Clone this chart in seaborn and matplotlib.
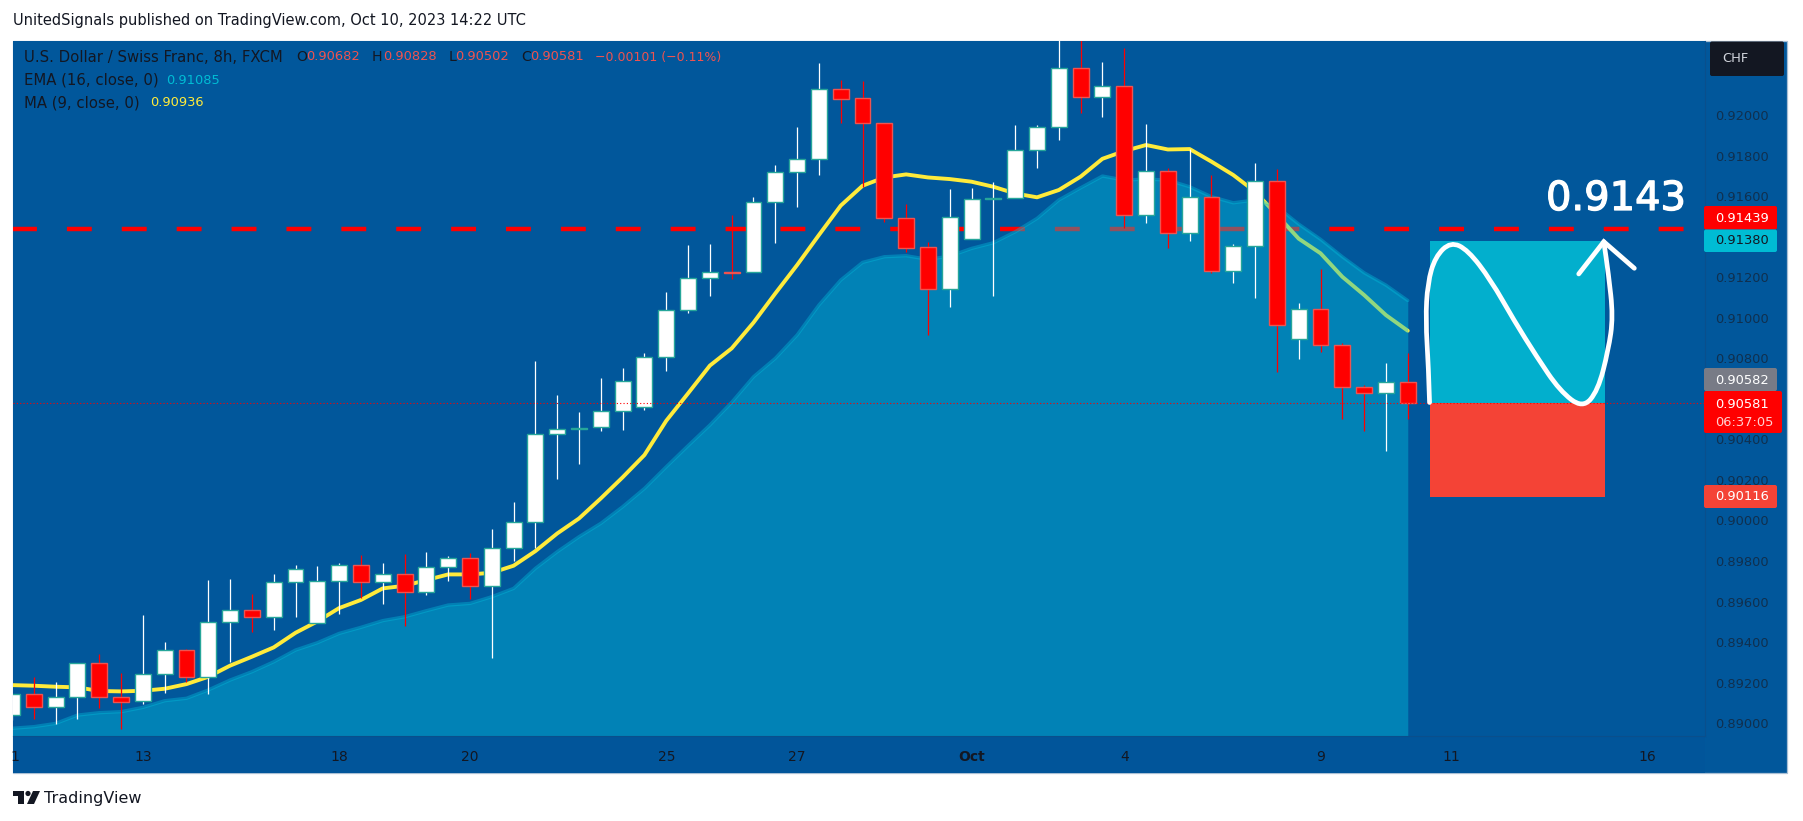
# %%
import matplotlib
matplotlib.use('Agg')
import matplotlib.patheffects as pe
import matplotlib.pyplot as plt
import pandas as pd
import seaborn as sns
from matplotlib.patches import Circle, FancyBboxPatch, PathPatch, Polygon, Rectangle
from matplotlib.path import Path
from matplotlib.transforms import Affine2D

# USD/CHF 8h bars
opens = [0.89040, 0.89142, 0.89078, 0.89128, 0.89295, 0.89128, 0.89108, 0.89241, 0.89359, 0.89226,
         0.89497, 0.89557, 0.89522, 0.89695, 0.89493, 0.89700, 0.89779, 0.89695, 0.89734, 0.89645,
         0.89769, 0.89813, 0.89675, 0.89862, 0.89991, 0.90425, 0.90449, 0.90461, 0.90540, 0.90558,
         0.90805, 0.91036, 0.91194, 0.91224, 0.91224, 0.91569, 0.91717, 0.91781, 0.92126, 0.92082,
         0.91959, 0.91490, 0.91347, 0.91140, 0.91387, 0.91584, 0.91589, 0.91826, 0.91939, 0.92230,
         0.92087, 0.92141, 0.91505, 0.91722, 0.91416, 0.91594, 0.91229, 0.91352, 0.91673, 0.90895,
         0.91041, 0.90864, 0.90657, 0.90627, 0.90682]
highs = [0.89142, 0.89229, 0.89203, 0.89295, 0.89341, 0.89246, 0.89534, 0.89400, 0.89364, 0.89706,
         0.89711, 0.89637, 0.89736, 0.89780, 0.89775, 0.89790, 0.89830, 0.89790, 0.89834, 0.89844,
         0.89825, 0.89838, 0.89958, 0.90091, 0.90786, 0.90619, 0.90535, 0.90704, 0.90752, 0.90824,
         0.91125, 0.91359, 0.91364, 0.91507, 0.91595, 0.91753, 0.91941, 0.92256, 0.92172, 0.92166,
         0.91959, 0.91561, 0.91373, 0.91635, 0.91640, 0.91669, 0.91950, 0.91950, 0.92419, 0.92419,
         0.92261, 0.92330, 0.91955, 0.91738, 0.91832, 0.91704, 0.91364, 0.91761, 0.91732, 0.91071,
         0.91239, 0.90874, 0.90668, 0.90778, 0.90828]
lows = [0.89016, 0.89019, 0.88996, 0.89021, 0.89077, 0.88971, 0.89095, 0.89151, 0.89203, 0.89144,
        0.89302, 0.89451, 0.89460, 0.89524, 0.89493, 0.89539, 0.89616, 0.89588, 0.89479, 0.89632,
        0.89701, 0.89611, 0.89322, 0.89798, 0.89862, 0.90204, 0.90278, 0.90440, 0.90446, 0.90545,
        0.90739, 0.91025, 0.91109, 0.91193, 0.91224, 0.91370, 0.91548, 0.91706, 0.91960, 0.91646,
        0.91474, 0.91326, 0.90915, 0.91055, 0.91387, 0.91109, 0.91589, 0.91740, 0.91878, 0.92011,
        0.91992, 0.91444, 0.91469, 0.91346, 0.91378, 0.91219, 0.91173, 0.91099, 0.90734, 0.90796,
        0.90833, 0.90500, 0.90443, 0.90344, 0.90502]
closes = [0.89142, 0.89078, 0.89128, 0.89295, 0.89128, 0.89106, 0.89241, 0.89359, 0.89226, 0.89497,
          0.89557, 0.89522, 0.89695, 0.89759, 0.89700, 0.89779, 0.89695, 0.89734, 0.89645, 0.89769,
          0.89813, 0.89675, 0.89862, 0.89991, 0.90425, 0.90449, 0.90458, 0.90540, 0.90686, 0.90805,
          0.91036, 0.91194, 0.91224, 0.91221, 0.91569, 0.91717, 0.91781, 0.92126, 0.92080, 0.91959,
          0.91490, 0.91346, 0.91140, 0.91495, 0.91584, 0.91589, 0.91826, 0.91939, 0.92230, 0.92087,
          0.92141, 0.91505, 0.91722, 0.91416, 0.91594, 0.91229, 0.91352, 0.91673, 0.90962, 0.91041,
          0.90864, 0.90657, 0.90627, 0.90681, 0.90581]
ma_9 = [0.89188, 0.89185, 0.89180, 0.89177, 0.89159, 0.89157, 0.89160, 0.89170, 0.89193, 0.89229,
        0.89284, 0.89328, 0.89374, 0.89446, 0.89502, 0.89568, 0.89608, 0.89665, 0.89678, 0.89706,
        0.89734, 0.89734, 0.89742, 0.89777, 0.89849, 0.89936, 0.90010, 0.90109, 0.90213, 0.90323,
        0.90492, 0.90627, 0.90764, 0.90849, 0.90976, 0.91120, 0.91260, 0.91408, 0.91553, 0.91651,
        0.91692, 0.91707, 0.91692, 0.91684, 0.91671, 0.91646, 0.91613, 0.91594, 0.91630, 0.91696,
        0.91784, 0.91822, 0.91852, 0.91830, 0.91832, 0.91770, 0.91704, 0.91622, 0.91507, 0.91390,
        0.91318, 0.91202, 0.91112, 0.91013, 0.90936]
ema_16 = [0.88975, 0.88983, 0.88999, 0.89040, 0.89052, 0.89057, 0.89078, 0.89111, 0.89123, 0.89164,
          0.89213, 0.89254, 0.89303, 0.89361, 0.89397, 0.89443, 0.89473, 0.89506, 0.89525, 0.89555,
          0.89583, 0.89591, 0.89624, 0.89665, 0.89764, 0.89846, 0.89920, 0.89986, 0.90068, 0.90158,
          0.90265, 0.90369, 0.90471, 0.90583, 0.90709, 0.90800, 0.90915, 0.91063, 0.91186, 0.91273,
          0.91301, 0.91306, 0.91288, 0.91304, 0.91342, 0.91370, 0.91424, 0.91490, 0.91581, 0.91641,
          0.91699, 0.91679, 0.91684, 0.91679, 0.91646, 0.91597, 0.91567, 0.91581, 0.91548, 0.91462,
          0.91387, 0.91301, 0.91222, 0.91161, 0.91085]

# Axis labels, position by bar number
x_tick_bars = [0.15, 6, 15, 21, 30, 36, 44, 51, 60, 66, 75]
x_tick_labels = ['1', '13', '18', '20', '25', '27', 'Oct', '4', '9', '11', '16']
y_ticks = [0.920, 0.918, 0.916, 0.912, 0.910, 0.908, 0.904, 0.902, 0.900,
           0.898, 0.896, 0.894, 0.892, 0.890]

# Levels and the long position tool
resistance = 0.91439
last_price = 0.90581
target_price = 0.91380
stop_price = 0.90116
position_bars = [65.0, 73.04]

# Hand drawn sketch over the position
sketch_bars = [65.0, 64.95, 64.82, 64.91, 65.26, 65.97, 66.76, 67.81, 68.86, 69.91,
               70.97, 72.02, 72.72, 73.2, 73.42, 73.2, 72.99]
sketch_prices = [0.90582, 0.90759, 0.90989, 0.91170, 0.91301, 0.91375, 0.91334, 0.91186, 0.90989, 0.90808,
                 0.90640, 0.90553, 0.90640, 0.90841, 0.91005, 0.91219, 0.91375]
arrow_bars = [71.84, 72.99, 74.39]
arrow_prices = [0.91216, 0.91375, 0.91244]

W, H = 1803, 821
BG = '#01579b'
TEXT = '#131722'
RED = '#ff0000'

sns.set_theme(style='white')
plt.rcParams['font.family'] = ['DejaVu Sans']

fig = plt.figure(figsize=(W / 100, H / 100), dpi=100, facecolor='white')
ax = fig.add_axes([13 / W, 1 - 736 / H, (1705 - 13) / W, (736 - 41) / H])
ax.set_facecolor(BG)

# everything outside the plot is placed in image pixels
px = Affine2D().scale(1 / W, -1 / H).translate(0, 1) + fig.transFigure

fig.add_artist(Rectangle((13, 41), 1774, 732, transform=px, fc=BG, ec='#a9bfd4', lw=0.9, zorder=-1))
fig.add_artist(Rectangle((13, 736), 1692, 37, transform=px, fc='#01559a', ec='none', zorder=-1))

df = pd.DataFrame({'bar': range(len(closes)), 'open': opens, 'high': highs, 'low': lows,
                   'close': closes, 'ma': ma_9, 'ema': ema_16})
up = df[df['close'] >= df['open']]
down = df[df['close'] < df['open']]

# level and position tool sit under the EMA cloud
ax.hlines(resistance, 0, 77.04, colors=RED, lw=3.2, linestyles=(0, (5.6, 6.75)), zorder=1.2)
ax.bar(position_bars[0], target_price - last_price, width=position_bars[1] - position_bars[0],
       bottom=last_price, align='edge', color='#02afcd', lw=0, zorder=1)
ax.bar(position_bars[0], last_price - stop_price, width=position_bars[1] - position_bars[0],
       bottom=stop_price, align='edge', color='#f44336', lw=0, zorder=1)

sns.lineplot(data=df, x='bar', y='ma', color='#ffeb3b', lw=2.8, ax=ax, legend=False,
             estimator=None, zorder=1.5)
ax.fill_between(df['bar'], df['ema'], 0.88, color='#01bddb', alpha=0.43, lw=0, zorder=2)
sns.lineplot(data=df, x='bar', y='ema', color='#01bddb', alpha=0.4, lw=2.4, ax=ax, legend=False,
             estimator=None, zorder=2.1)

# candles
ax.vlines(up['bar'], up['low'], up['high'], colors='white', lw=0.9, zorder=3)
ax.vlines(down['bar'], down['low'], down['high'], colors=RED, lw=0.9, zorder=3)
ax.bar(up['bar'], up['close'] - up['open'], bottom=up['open'], width=0.73,
       color='white', edgecolor='#26a69a', lw=1.0, zorder=3.1)
ax.bar(down['bar'], down['open'] - down['close'], bottom=down['close'], width=0.73,
       color=RED, edgecolor='#ef5350', lw=1.0, zorder=3.1)

ax.axhline(last_price, color=RED, lw=0.8, ls=(0, (1, 2)), zorder=4)

# sketch, smoothed through the read points
verts = [(sketch_bars[0], sketch_prices[0])]
codes = [Path.MOVETO]
for i in range(1, len(sketch_bars) - 1):
    mid = ((sketch_bars[i] + sketch_bars[i + 1]) / 2, (sketch_prices[i] + sketch_prices[i + 1]) / 2)
    verts += [(sketch_bars[i], sketch_prices[i]), mid]
    codes += [Path.CURVE3, Path.CURVE3]
verts.append((sketch_bars[-1], sketch_prices[-1]))
codes.append(Path.LINETO)
ax.add_patch(PathPatch(Path(verts, codes), fc='none', ec='white', lw=3.4, capstyle='round', zorder=5))
ax.plot(arrow_bars, arrow_prices, color='white', lw=3.4, solid_capstyle='round',
        solid_joinstyle='miter', zorder=5)

ax.set_xlim(0.046, 77.63)
ax.set_ylim(0.88937, 0.92365)
ax.set_xlabel('')
ax.set_ylabel('')
ax.set_xticks(x_tick_bars)
ax.set_xticklabels(x_tick_labels, fontsize=10, color=TEXT)
ax.get_xticklabels()[x_tick_labels.index('Oct')].set_fontweight('bold')
ax.yaxis.tick_right()
ax.set_yticks(y_ticks)
ax.set_yticklabels([f'{v:.5f}' for v in y_ticks], fontsize=9.4, color='#10304f')
ax.tick_params(axis='x', length=0, pad=10)
ax.tick_params(axis='y', length=0, pad=7, right=False)
for side in ('top', 'left'):
    ax.spines[side].set_visible(False)
for side in ('bottom', 'right'):
    ax.spines[side].set_color('#0a4f8c')
    ax.spines[side].set_linewidth(0.8)


def put(x, y, s, color=TEXT, size=9.4, ha='left', **kw):
    return fig.text(x, y, s, transform=px, color=color, fontsize=size, ha=ha, va='center', **kw)


def badge(x0, y0, x1, y1, color):
    fig.add_artist(FancyBboxPatch((x0, y0), x1 - x0, y1 - y0, transform=px, fc=color, ec='none',
                                  boxstyle='round,pad=0,rounding_size=2', zorder=3))


# titles and legend
put(13, 20.5, 'UnitedSignals published on TradingView.com, Oct 10, 2023 14:22 UTC', size=10.55)
put(24, 57, 'U.S. Dollar / Swiss Franc, 8h, FXCM', size=10.7)
for x, s in [(296, 'O'), (372, 'H'), (448.5, 'L'), (521, 'C')]:
    put(x, 57, s, size=10.2)
for x, s in [(306, '0.90682'), (383, '0.90828'), (455, '0.90502'), (530, '0.90581')]:
    put(x, 57, s, color='#ef5350')
put(595, 57, '\u22120.00101 (\u22120.11%)', color='#ef5350', size=9.0)
put(24, 80, 'EMA (16, close, 0)', size=10.7)
put(166.5, 80, '0.91085', color='#00bcd4')
put(24, 102.5, 'MA (9, close, 0)', size=10.7)
put(150, 102.5, '0.90936', color='#ffeb3b')

big = put(1686, 199, '0.9143', color='white', size=28.8, ha='right')
big.set_path_effects([pe.withStroke(linewidth=0.9, foreground='white')])

# price badges
badge(1704, 206, 1777, 229.5, RED)
put(1715, 218, '0.91439', color='white', zorder=4)
badge(1704, 229.5, 1777, 252, '#00bcd4')
put(1715, 241, '0.91380', zorder=4)
badge(1704, 368, 1777, 391, '#787b86')
put(1715, 380, '0.90582', color='white', zorder=4)
badge(1704, 391, 1782, 433, RED)
put(1715, 404, '0.90581', color='white', zorder=4)
put(1715, 422, '06:37:05', color='#ffd0d0', zorder=4)
badge(1704, 485, 1777, 508, '#f44336')
put(1715, 497, '0.90116', color='white', zorder=4)
badge(1710, 41.5, 1784, 76, TEXT)
put(1722, 59, 'CHF', color='#d1d4dc', zorder=4)

# TradingView logo
for shape in [Polygon([(13, 791), (24, 791), (24, 804), (18, 804), (18, 796), (13, 796)], transform=px),
              Circle((28, 793.5), 2.6, transform=px),
              Polygon([(33, 791), (40, 791), (34, 804), (27, 804)], transform=px)]:
    shape.set(fc=TEXT, ec='none')
    fig.add_artist(shape)
put(44, 798, 'TradingView', size=11.5)

fig.savefig('out.png', dpi=100, facecolor='white')
